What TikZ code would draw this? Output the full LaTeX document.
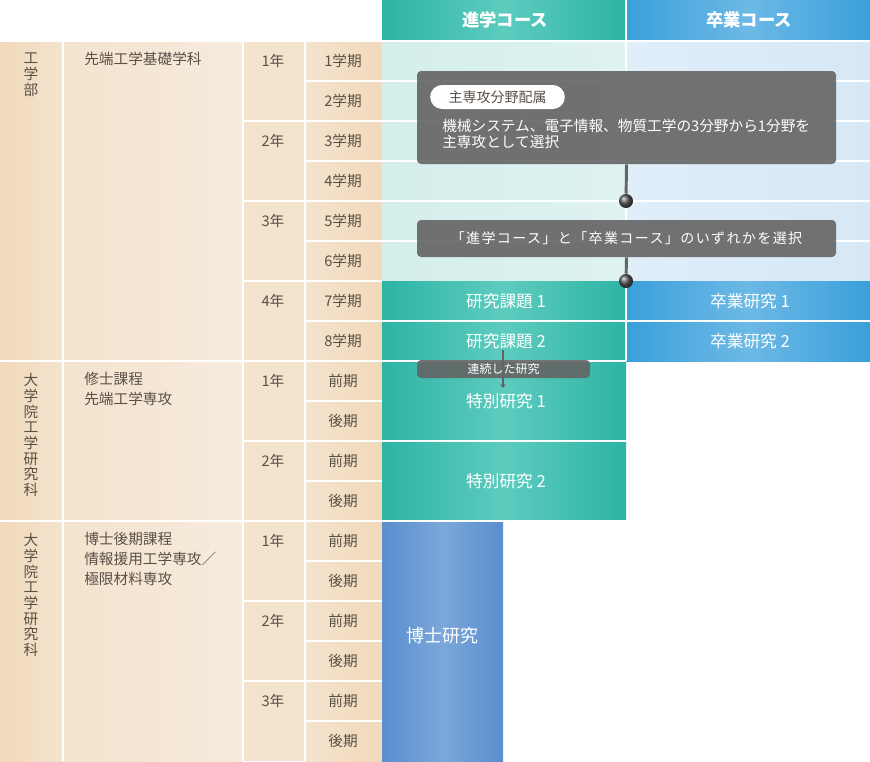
\documentclass[tikz,border=0pt]{standalone}
\usepackage{fontspec}
\setmainfont{Noto Sans CJK JP}
\usepackage{tikz}
\usetikzlibrary{arrows.meta, positioning}

\definecolor{beigeD}{HTML}{F1D9BA}
\definecolor{beigeM}{HTML}{F4E3CE}
\definecolor{beigeL}{HTML}{F6EBDD}
\definecolor{beigeY}{HTML}{F3E2CC}
\definecolor{inkTxt}{HTML}{5A5048}
\definecolor{tealD}{HTML}{2DB4A3}
\definecolor{tealL}{HTML}{5DCCBF}
\definecolor{blueD}{HTML}{3A9FDA}
\definecolor{blueL}{HTML}{6CB9E5}
\definecolor{paleTeal}{HTML}{D4EEEC}
\definecolor{paleTealL}{HTML}{DFF3F1}
\definecolor{paleBlue}{HTML}{D6E8F6}
\definecolor{paleBlueL}{HTML}{E0EEF9}
\definecolor{drBlueD}{HTML}{5A8ECE}
\definecolor{drBlueL}{HTML}{7BA7D9}
\definecolor{noteGray}{HTML}{646464}

\tikzset{
  sep/.style={white, line width=1.5pt},
  celltxt/.style={inner sep=0pt, text=inkTxt, font=\fontsize{11}{12}\selectfont},
  vtxt/.style={celltxt, anchor=north, align=center, font=\fontsize{11}{11.8}\selectfont},
  depttxt/.style={celltxt, anchor=north west, align=left, font=\fontsize{11}{15}\selectfont},
  headtxt/.style={inner sep=0pt, text=white, font=\fontsize{13}{14}\selectfont\bfseries},
  bartxt/.style={inner sep=0pt, text=white, font=\fontsize{12.5}{14}\selectfont},
  notebox/.style={fill=noteGray, fill opacity=0.9, text opacity=1, rounded corners=3pt, inner sep=0pt,
    text=white, font=\fontsize{10.5}{12}\selectfont},
  notetxt/.style={inner sep=0pt, text=white, font=\fontsize{11}{12}\selectfont},
  knob/.style={circle, inner sep=0pt, minimum size=10.5pt, ball color=gray!70!black},
  stem/.style={draw=noteGray, line width=2.2pt}
}

\begin{document}
\begin{tikzpicture}[x=0.75pt,y=0.75pt,yscale=-1,xscale=1]
\useasboundingbox (0,0) rectangle (870,761);

%left table background
\fill[left color=beigeD, right color=beigeM] (0,41) rectangle (63,761);
\fill[left color=beigeM, right color=beigeL] (63,41) rectangle (243,761);
\fill[beigeY] (243,41) rectangle (305,761);
\fill[left color=beigeM, right color=beigeD] (305,41) rectangle (382,761);
\foreach \y in {81,121,...,721} \draw[sep] (305,\y) -- (382,\y);
\foreach \y in {121,201,281,441,601,681} \draw[sep] (243,\y) -- (382,\y);
\foreach \y in {41,361,521} \draw[sep] (0,\y) -- (382,\y);
\foreach \x in {63,243,305} \draw[sep] (\x,41) -- (\x,761);

%course headers
\fill[left color=tealD, right color=tealD, middle color=tealL] (382,0) rectangle (626,40);
\fill[left color=blueD, right color=blueD, middle color=blueL] (626,0) rectangle (870,40);
\node[headtxt] (hdShin) at (505,20) {進学コース};
\node[headtxt] (hdSotsu) at (749,20) {卒業コース};

%undergraduate years 1-3
\fill[left color=paleTeal, right color=paleTealL] (382,41) rectangle (626,281);
\fill[left color=paleBlueL, right color=paleBlue] (626,41) rectangle (870,281);
\foreach \y in {81,121,...,241} \draw[sep] (382,\y) -- (870,\y);
\draw[sep] (382,40.5) -- (870,40.5);

%research bars
\fill[left color=tealD, right color=tealD, middle color=tealL] (382,281) rectangle (626,361);
\fill[left color=blueD, right color=blueD, middle color=blueL] (626,281) rectangle (870,361);
\fill[left color=tealD, right color=tealD, middle color=tealL] (382,361) rectangle (626,521);
\fill[left color=drBlueD, right color=drBlueD, middle color=drBlueL] (382,521) rectangle (503,761);
\draw[sep] (382,321) -- (870,321);
\draw[sep] (382,441) -- (626,441);
\draw[sep] (382,361) -- (626,361);
\draw[sep] (626,0) -- (626,361);
\draw[sep] (382,521) -- (626,521);
\node[bartxt] (kadai1) at (506,301) {研究課題 1};
\node[bartxt] (kadai2) at (506,341) {研究課題 2};
\node[bartxt] (sotsu1) at (750,301) {卒業研究 1};
\node[bartxt] (sotsu2) at (750,341) {卒業研究 2};
\node[bartxt] (tokubetsu1) at (506,401) {特別研究 1};
\node[bartxt] (tokubetsu2) at (506,481) {特別研究 2};
\node[bartxt, font=\fontsize{13.5}{15}\selectfont] (hakase) at (442,636) {博士研究};

%left labels
\node[vtxt] (facKogaku) at (31,53) {工\\学\\部};
\node[vtxt] (facMaster) at (31,373) {大\\学\\院\\工\\学\\研\\究\\科};
\node[vtxt] (facDoctor) at (31,533) {大\\学\\院\\工\\学\\研\\究\\科};
\node[depttxt] (depKiso) at (84,52) {先端工学基礎学科};
\node[depttxt] (depMaster) at (84,372) {修士課程\\先端工学専攻};
\node[depttxt] (depDoctor) at (84,532) {博士後期課程\\情報援用工学専攻／\\極限材料専攻};
\foreach \n/\y in {1/61,2/141,3/221,4/301,1/381,2/461,1/541,2/621,3/701}
  \node[celltxt] (yr\y) at (273,\y) {{\n}年};
\foreach \i in {1,...,8}
  \node[celltxt] (gk\i) at (343,21+40*\i) {{\i}学期};
\foreach \i in {9,11,...,17} {
  \node[celltxt] (zenki\i) at (343,21+40*\i) {前期};
  \node[celltxt] (koki\i) at (343,61+40*\i) {後期};
}

%notes
\node[notebox, minimum width=314.25pt, minimum height=69.75pt] (noteMajor) at (626.5,117.5) {};
\node[fill=white, rounded corners=9pt, minimum width=101pt, minimum height=18pt, inner sep=0pt,
  text=inkTxt, font=\fontsize{10.5}{12}\selectfont] (tagMajor) at (497.5,97) {主専攻分野配属};
\node[notetxt, anchor=north west, align=left] (txtMajor) at (442,119)
  {機械システム、電子情報、物質工学の3分野から1分野を\\主専攻として選択};
\node[notebox, minimum width=314.25pt, minimum height=27.75pt] (noteCourse) at (626.5,238.5)
  {\addfontfeature{LetterSpace=10}「進学コース」と「卒業コース」のいずれかを選択};
\node[knob] (knobA) at (626,201) {};
\node[knob] (knobB) at (626,281) {};
\draw[stem] (noteMajor.south) -- (knobA);
\draw[stem] (noteCourse.south) -- (knobB);

\node[notebox, minimum width=129.75pt, minimum height=13.5pt, font=\fontsize{9}{10}\selectfont]
  (noteRenzoku) at (503.5,369) {連続した研究};
\coordinate (renzokuN) at (503,350);
\coordinate (renzokuS) at (503,388);
\draw[noteGray, line width=0.8pt, -{Stealth[length=3pt,width=4pt]}] (renzokuN) -- (renzokuS);
\end{tikzpicture}
\end{document}
